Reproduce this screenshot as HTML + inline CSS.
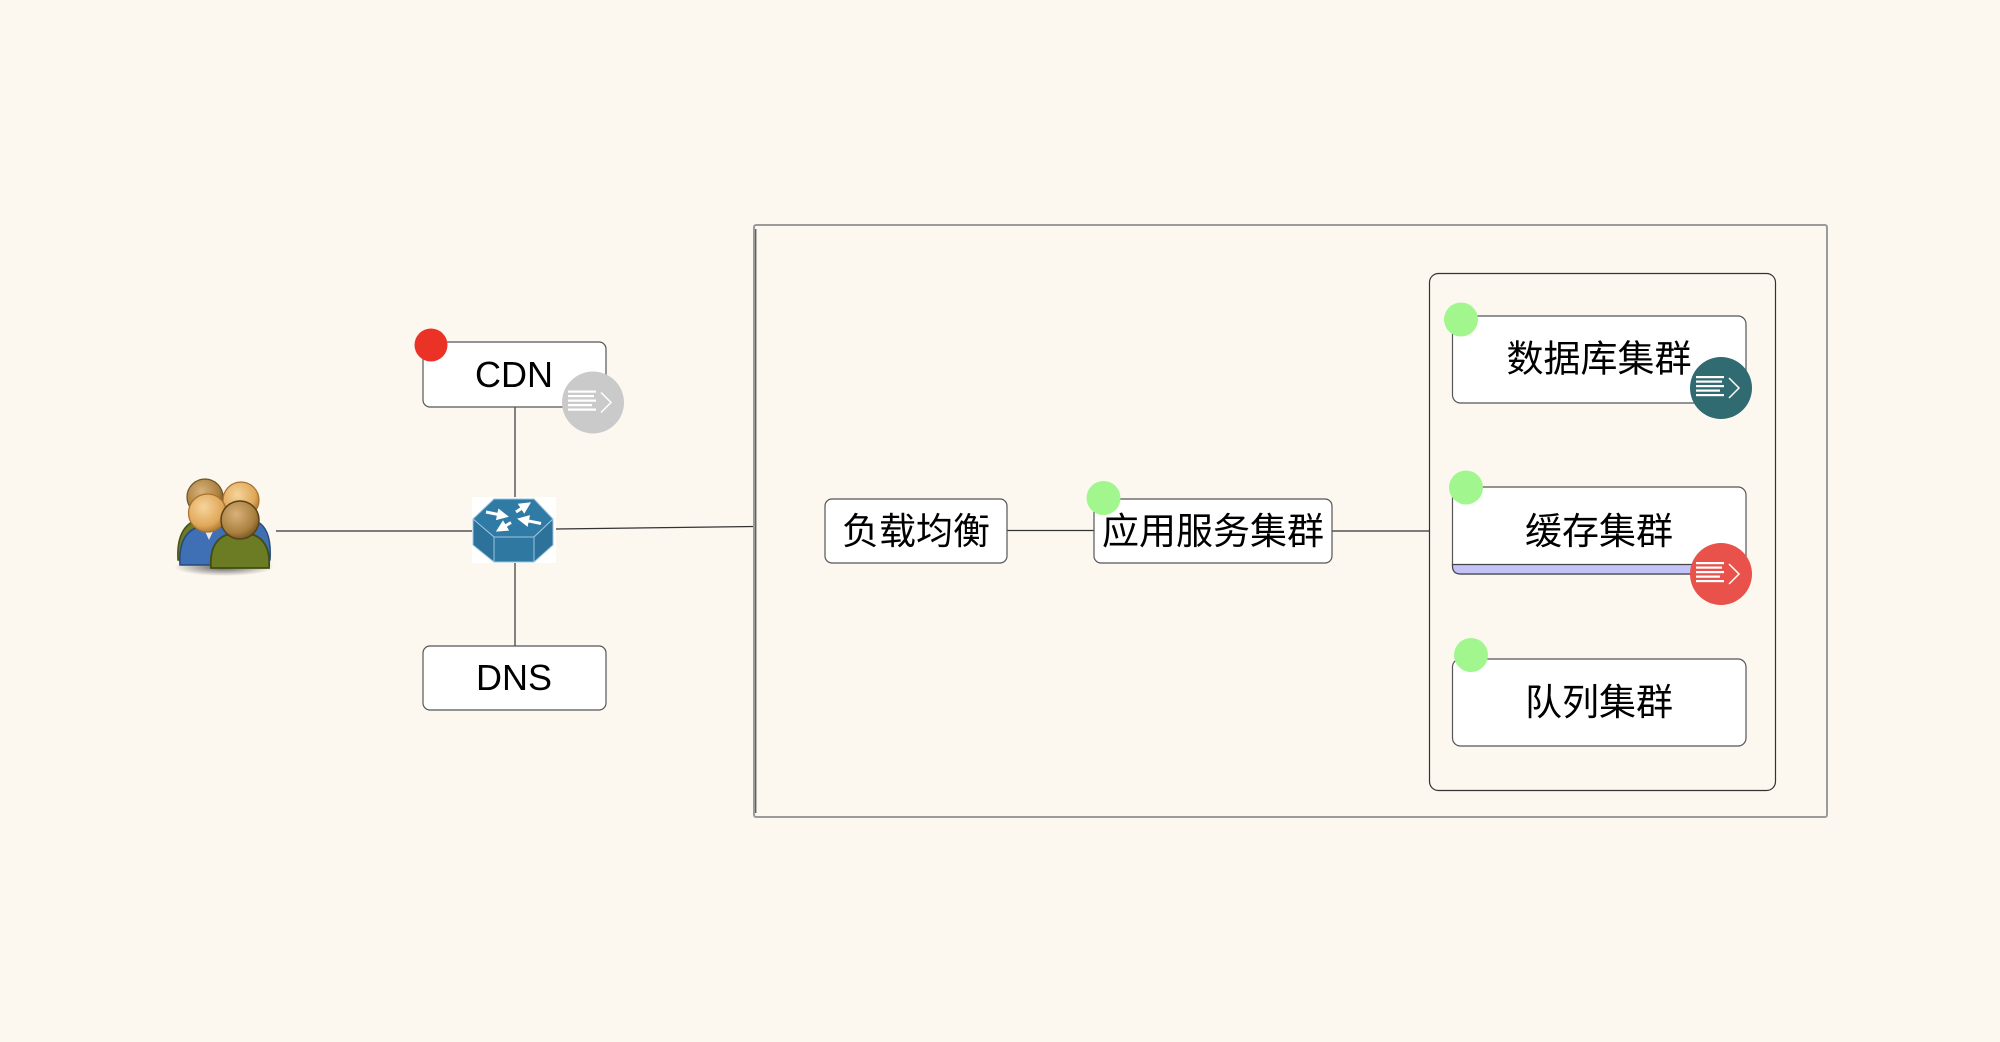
<!DOCTYPE html>
<html>
<head>
<meta charset="utf-8">
<style>
html,body{margin:0;padding:0;background:#fcf8f0;}
svg{display:block;}
text{font-family:"Liberation Sans","Noto Sans CJK SC",sans-serif;fill:#000;}
</style>
</head>
<body>
<svg width="2000" height="1042" viewBox="0 0 2000 1042" xmlns="http://www.w3.org/2000/svg">
<defs>
  <radialGradient id="hBrown" cx="0.4" cy="0.35" r="0.7">
    <stop offset="0" stop-color="#d9b27a"/>
    <stop offset="0.7" stop-color="#a9803f"/>
    <stop offset="1" stop-color="#6e5220"/>
  </radialGradient>
  <radialGradient id="hOrange" cx="0.4" cy="0.35" r="0.7">
    <stop offset="0" stop-color="#f6d49c"/>
    <stop offset="0.7" stop-color="#e0a85a"/>
    <stop offset="1" stop-color="#a8722c"/>
  </radialGradient>
  <radialGradient id="shadow" cx="0.5" cy="0.5" r="0.5">
    <stop offset="0" stop-color="#333" stop-opacity="0.8"/>
    <stop offset="1" stop-color="#333" stop-opacity="0"/>
  </radialGradient>
  <marker id="ah" markerWidth="4" markerHeight="4" refX="2" refY="2" orient="auto" markerUnits="strokeWidth">
    <path d="M0,0 L4,2 L0,4 z" fill="#fff"/>
  </marker>
</defs>

<rect x="0" y="0" width="2000" height="1042" fill="#fcf8f0"/>

<!-- connectors -->
<g stroke="#333" stroke-width="1.2" fill="none">
  <line x1="276" y1="531" x2="473" y2="531"/>
  <line x1="556" y1="529" x2="754" y2="526.5"/>
  <line x1="515" y1="407" x2="515" y2="498"/>
  <line x1="515" y1="562" x2="515" y2="646"/>
  <line x1="1007" y1="530.5" x2="1094" y2="530.5"/>
  <line x1="1332" y1="531" x2="1430" y2="531"/>
</g>

<!-- outer container -->
<rect x="754" y="225" width="1073" height="592" rx="2" fill="none" stroke="#9b9b9b" stroke-width="2"/>
<line x1="755.8" y1="229" x2="755.8" y2="813" stroke="#222" stroke-width="1"/>

<!-- inner container -->
<rect x="1429.5" y="273.5" width="346" height="517" rx="9" fill="none" stroke="#333" stroke-width="1.2"/>

<!-- boxes -->
<g fill="#fff" stroke="#555" stroke-width="1.2">
  <rect x="423" y="342" width="183" height="65" rx="7"/>
  <rect x="423" y="646" width="183" height="64" rx="7"/>
  <rect x="825" y="499" width="182" height="64" rx="7"/>
  <rect x="1094" y="499" width="238" height="64" rx="7"/>
  <rect x="1452.5" y="316" width="293.5" height="87" rx="8"/>
  <rect x="1452.5" y="487" width="293.5" height="87" rx="8"/>
  <rect x="1452.5" y="659" width="293.5" height="87" rx="8"/>
</g>
<!-- cache lavender bar -->
<path d="M1452.5,564.5 L1746,564.5 L1746,566 Q1746,574 1738,574 L1460.5,574 Q1452.5,574 1452.5,566 Z" fill="#c3c3f7" stroke="#444" stroke-width="1.2"/>

<!-- texts -->
<text x="514" y="387" font-size="36" text-anchor="middle">CDN</text>
<text x="514" y="690" font-size="36" text-anchor="middle">DNS</text>
<text x="916" y="544" font-size="37" text-anchor="middle">负载均衡</text>
<text x="1213" y="544" font-size="37" text-anchor="middle">应用服务集群</text>
<text x="1599" y="371.5" font-size="37" text-anchor="middle">数据库集群</text>
<text x="1599" y="544" font-size="37" text-anchor="middle">缓存集群</text>
<text x="1599" y="715" font-size="37" text-anchor="middle">队列集群</text>

<!-- dots -->
<circle cx="431" cy="345" r="16.5" fill="#ea3226"/>
<g fill="#a2f68e">
  <circle cx="1103.5" cy="498" r="17"/>
  <circle cx="1461" cy="319.5" r="17"/>
  <circle cx="1466" cy="487.5" r="17"/>
  <circle cx="1471" cy="655" r="17"/>
</g>

<!-- note icons -->
<g id="icoCDN" transform="translate(593,402.5)">
  <circle r="31" fill="#cacaca"/>
  <g fill="#fff">
    <rect x="-25" y="-12" width="28" height="2.2"/>
    <rect x="-25" y="-7.5" width="26" height="2.2"/>
    <rect x="-25" y="-3" width="28" height="2.2"/>
    <rect x="-25" y="1.5" width="24" height="2.2"/>
    <rect x="-25" y="6" width="28" height="2.2"/>
  </g>
  <path d="M8,-10 L18,0 L8,10" fill="none" stroke="#fff" stroke-width="1.5"/>
</g>
<g transform="translate(1721,388)">
  <circle r="31" fill="#2f6b70"/>
  <g fill="#fff">
    <rect x="-25" y="-12" width="28" height="2.2"/>
    <rect x="-25" y="-7.5" width="26" height="2.2"/>
    <rect x="-25" y="-3" width="28" height="2.2"/>
    <rect x="-25" y="1.5" width="24" height="2.2"/>
    <rect x="-25" y="6" width="28" height="2.2"/>
  </g>
  <path d="M8,-10 L18,0 L8,10" fill="none" stroke="#fff" stroke-width="1.5"/>
</g>
<g transform="translate(1721,574)">
  <circle r="31" fill="#e8524b"/>
  <g fill="#fff">
    <rect x="-25" y="-12" width="28" height="2.2"/>
    <rect x="-25" y="-7.5" width="26" height="2.2"/>
    <rect x="-25" y="-3" width="28" height="2.2"/>
    <rect x="-25" y="1.5" width="24" height="2.2"/>
    <rect x="-25" y="6" width="28" height="2.2"/>
  </g>
  <path d="M8,-10 L18,0 L8,10" fill="none" stroke="#fff" stroke-width="1.5"/>
</g>

<!-- router -->
<rect x="472" y="497" width="84" height="66" fill="#fff"/>
<g stroke="#9cc4dc" stroke-width="1" stroke-linejoin="round">
  <polygon points="494,499 534,499 553,519 534,537 494,537 473,519" fill="#2f7ba6"/>
  <polygon points="494,537 534,537 534,562 494,562" fill="#2e78a2"/>
  <polygon points="473,519 494,537 494,562 473,545" fill="#2c729b"/>
  <polygon points="553,519 534,537 534,562 553,545" fill="#2c729b"/>
</g>
<g stroke="#fff" stroke-width="3" fill="none" marker-end="url(#ah)">
  <line x1="486" y1="512" x2="503" y2="515.5"/>
  <line x1="516" y1="512" x2="526" y2="505.5"/>
  <line x1="541" y1="523.5" x2="523" y2="519.8"/>
  <line x1="511" y1="522.5" x2="501" y2="528.5"/>
</g>

<!-- people icon -->
<g>
  <ellipse cx="224" cy="567" rx="50" ry="9" fill="url(#shadow)"/>
  <!-- back-left person -->
  <path d="M178,560 Q176,528 196,520 L214,520 Q232,528 230,560 Z" fill="#6b7b27" stroke="#45501a" stroke-width="1.5"/>
  <circle cx="205" cy="497" r="18" fill="url(#hBrown)" stroke="#6e5220" stroke-width="1.2"/>
  <!-- back-right person -->
  <path d="M224,560 Q222,530 240,522 L258,522 Q272,530 270,560 Z" fill="#3f6fb2" stroke="#2a4d80" stroke-width="1.5"/>
  <circle cx="241" cy="500" r="18" fill="url(#hOrange)" stroke="#a8722c" stroke-width="1.2"/>
  <!-- front-left person -->
  <path d="M180,565 Q178,534 198,527 L222,527 Q240,534 238,565 Z" fill="#3f6fb5" stroke="#27487a" stroke-width="1.5"/>
  <path d="M203,527 L209,540 L215,527 Z" fill="#e8e8e8"/>
  <circle cx="207.5" cy="513" r="19" fill="url(#hOrange)" stroke="#a8722c" stroke-width="1.2"/>
  <!-- front-right person -->
  <path d="M211,568 Q209,542 226,535 L254,535 Q271,542 269,568 Z" fill="#6b7c25" stroke="#424d15" stroke-width="1.8"/>
  <circle cx="240" cy="520" r="19" fill="url(#hBrown)" stroke="#5a4218" stroke-width="1.5"/>
</g>
</svg>
</body>
</html>
